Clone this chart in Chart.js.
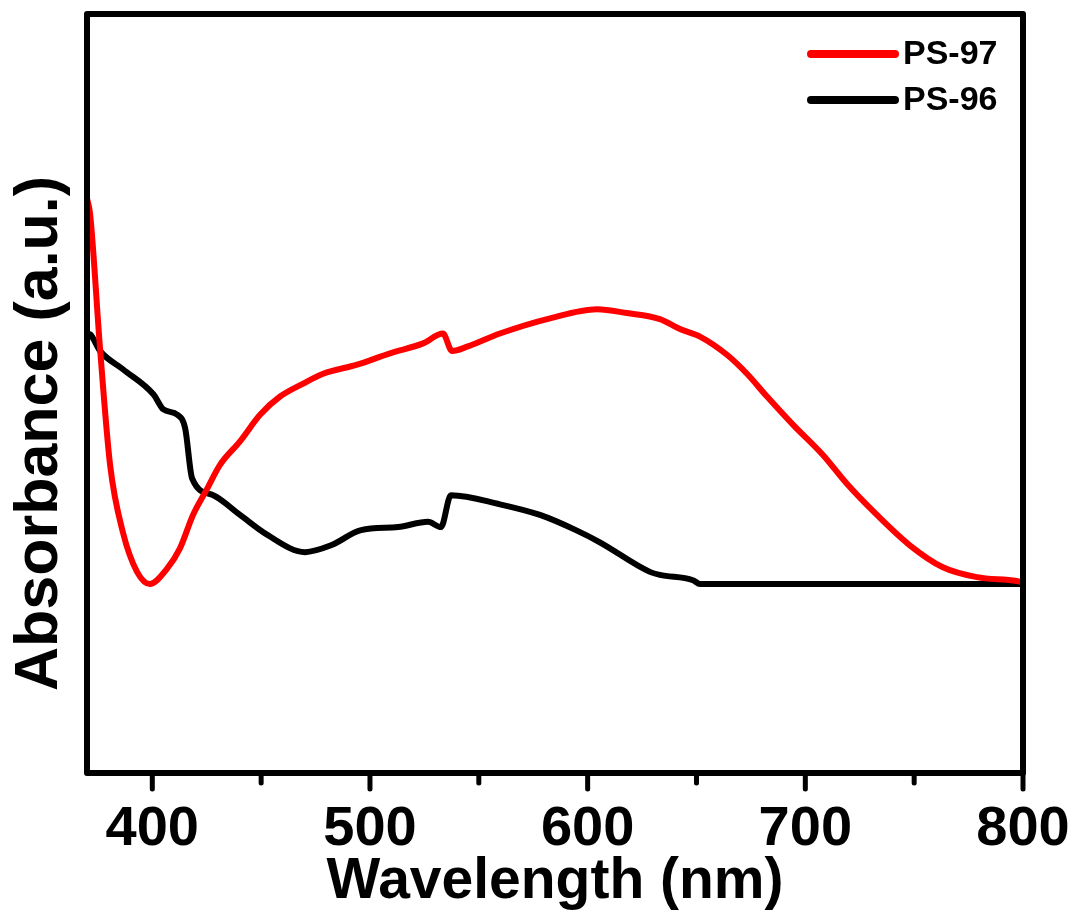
<!DOCTYPE html>
<html>
<head>
<meta charset="utf-8">
<script src="https://cdn.jsdelivr.net/npm/chart.js@4/dist/chart.umd.min.js"></script>
<style>
    html, body { margin: 0; padding: 0; background: #fff; }
    #wrap { width: 1076px; height: 922px; }
</style>
</head>
<body>
<div id="wrap"><canvas id="absChart"></canvas></div>
<script>
"use strict"

// Absorbans (godtyckliga enheter)
const ps97Wavelength = [370, 371.4, 376, 380.6, 386.5, 393, 398.9, 406.7, 412.7, 418.7, 425.1, 431.1, 440.3, 449.5, 458.7, 469.3, 478.5, 494.1, 509.2, 524.4, 533.5, 537.7, 545, 559.7, 582.7, 604.3, 618, 633.2, 642.4, 651.6, 664, 673.2, 682.4, 694.3, 708.1, 719.1, 732.9, 748, 763.2, 778.8, 797.1, 800];
const ps97Absorbance = [75.7, 73.7, 55.9, 40.6, 31.7, 26.5, 24.9, 26.9, 29.6, 34.0, 37.4, 40.6, 43.7, 47.2, 49.6, 51.3, 52.6, 53.8, 55.3, 56.6, 57.9, 55.6, 56.2, 57.9, 59.9, 61.1, 60.6, 59.8, 58.5, 57.5, 55.1, 52.6, 49.6, 45.9, 41.9, 38.1, 34.0, 30.0, 27.1, 25.8, 25.3, 25.1];

const ps96Wavelength = [370, 371.4, 376, 386.5, 400.5, 405.1, 411.5, 415.1, 418.3, 428, 440.3, 452.7, 470.2, 482.1, 495.9, 512.9, 526.7, 532.6, 537.2, 559.7, 578.1, 594.6, 605.6, 628.6, 633.2, 648.4, 651.6, 700, 800];
const ps96Absorbance = [57.9, 57.8, 55.6, 53.2, 49.9, 47.9, 47.2, 45.4, 38.8, 36.6, 34.0, 31.4, 29.1, 30.0, 32.0, 32.4, 33.1, 32.4, 36.6, 35.4, 34.0, 32.0, 30.4, 26.5, 26.1, 25.4, 24.9, 24.9, 24.9];

const seriesLabels = ['PS-97', 'PS-96'];
const seriesColors = ['#ff0000', '#000000'];
const majorTicks = [400, 500, 600, 700, 800];
const minorTicks = [450, 550, 650, 750];
const yTitle = 'Absorbance (a.u.)';

const fontFamily = '"Liberation Sans", Arial, sans-serif';

function toPoints(xs, ys) {
    return xs.map((x, i) => ({ x: x, y: ys[i] }));
}

// Ram, tickmarkeringar, y-titel och förklaring ritas för hand
const framePlugin = {
    id: 'frame',
    afterDatasetsDraw(chart) {
        const { ctx, chartArea: a, scales } = chart;
        ctx.save();
        ctx.strokeStyle = '#000';
        ctx.lineWidth = 6;
        ctx.lineJoin = 'round';
        ctx.lineCap = 'round';
        ctx.strokeRect(a.left, a.top, a.right - a.left, a.bottom - a.top);

        const drawTick = (v, len) => {
            const px = scales.x.getPixelForValue(v);
            ctx.beginPath();
            ctx.moveTo(px, a.bottom);
            ctx.lineTo(px, a.bottom + len);
            ctx.stroke();
        };
        ctx.lineWidth = 5;
        majorTicks.forEach(v => drawTick(v, 16));
        minorTicks.forEach(v => drawTick(v, 10));

        // y-axelns titel, lite under mitten som i originalet
        ctx.save();
        ctx.translate(a.left - 47, (a.top + a.bottom) / 2 + 40);
        ctx.rotate(-Math.PI / 2);
        ctx.font = 'bold 61px ' + fontFamily;
        ctx.fillStyle = '#000';
        ctx.textAlign = 'center';
        ctx.textBaseline = 'middle';
        ctx.fillText(yTitle, 0, 0);
        ctx.restore();

        // förklaring uppe till höger
        ctx.font = 'bold 34px ' + fontFamily;
        ctx.textBaseline = 'middle';
        chart.data.datasets.forEach((ds, i) => {
            const y = a.top + 40 + i * 46;
            ctx.strokeStyle = ds.borderColor;
            ctx.lineWidth = 8;
            ctx.beginPath();
            ctx.moveTo(a.right - 212, y);
            ctx.lineTo(a.right - 128, y);
            ctx.stroke();
            ctx.fillStyle = '#000';
            ctx.fillText(ds.label, a.right - 120, y + 1);
        });
        ctx.restore();
    }
};

function createChart() {
    const ctx = document.getElementById('absChart').getContext('2d');

    new Chart(ctx, {
        type: 'line',
        data: {
            datasets: [
                {
                    label: seriesLabels[0],
                    data: toPoints(ps97Wavelength, ps97Absorbance),
                    borderColor: seriesColors[0],
                    borderWidth: 6,
                    pointRadius: 0,
                    cubicInterpolationMode: 'monotone'
                },
                {
                    label: seriesLabels[1],
                    data: toPoints(ps96Wavelength, ps96Absorbance),
                    borderColor: seriesColors[1],
                    borderWidth: 6,
                    pointRadius: 0,
                    cubicInterpolationMode: 'monotone'
                }
            ]
        },
        options: {
            responsive: true,
            maintainAspectRatio: false,
            animation: false,
            layout: { padding: { top: 14, right: 53, bottom: 11, left: 87 } },
            plugins: {
                legend: { display: false },
                tooltip: { enabled: false }
            },
            scales: {
                x: {
                    type: 'linear',
                    min: 370,
                    max: 800,
                    afterBuildTicks: scale => {
                        scale.ticks = majorTicks.map(v => ({ value: v }));
                    },
                    afterFit: scale => {
                        // etiketten 800 får sticka ut utanför ritytan
                        scale.paddingLeft = 0;
                        scale.paddingRight = 0;
                    },
                    ticks: {
                        color: '#000',
                        padding: 14,
                        maxRotation: 0,
                        font: { family: fontFamily, size: 56, weight: 'bold', lineHeight: 1 }
                    },
                    grid: { drawOnChartArea: false, drawTicks: true, tickLength: 15, color: 'rgba(0,0,0,0)' },
                    border: { display: false },
                    title: {
                        display: true,
                        text: 'Wavelength (nm)',
                        color: '#000',
                        padding: { top: -18, bottom: 0 },
                        font: { family: fontFamily, size: 57, weight: 'bold', lineHeight: 1 }
                    }
                },
                y: {
                    display: false,
                    min: 0,
                    max: 100
                }
            }
        },
        plugins: [framePlugin]
    });
}

createChart();
</script>
</body>
</html>
